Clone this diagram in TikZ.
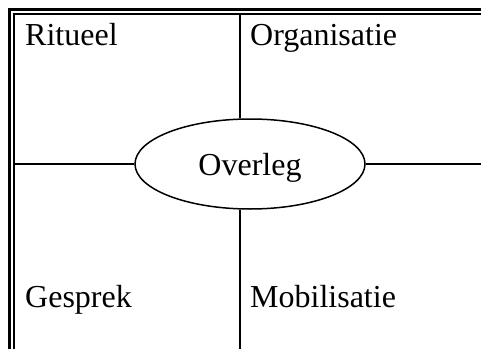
\documentclass[tikz,border=0pt]{standalone}
\usepackage{fontspec}
\setmainfont{Liberation Serif}
\usetikzlibrary{shapes.geometric}
\begin{document}
\begin{tikzpicture}[x=1pt,y=1pt,
  lbl/.style={anchor=base west,inner sep=0pt,font=\fontsize{32}{38}\selectfont},
  outerline/.style={line width=3.4pt},
  innerline/.style={line width=2.2pt},
  gridline/.style={line width=2.8pt},
  centre/.style={ellipse,draw,line width=1.5pt,minimum width=230pt,minimum height=90pt,
    inner sep=0pt,text height=28pt,text depth=6pt,font=\fontsize{32}{38}\selectfont}]
\useasboundingbox (0,0) rectangle (481,349);
% frame coordinates
\coordinate (obl) at (9.5,0);
\coordinate (otl) at (9.5,339.5);
\coordinate (otr) at (481,339.5);
\coordinate (ibl) at (14,0);
\coordinate (itl) at (14,335);
\coordinate (itr) at (481,335);
\coordinate (ml) at (14,185);
\coordinate (mr) at (481,185);
\coordinate (vt) at (240,335);
\coordinate (vb) at (240,0);
% ellipse
\node[centre] (ov) at (250,185) {Overleg};
% double border
\draw[outerline] (obl) -- (otl) -- (otr);
\draw[innerline] (ibl) -- (itl) -- (itr);
% cross lines
\draw[gridline] (ml) -- (ov.west);
\draw[gridline] (ov.east) -- (mr);
\draw[gridline] (vt) -- (vt |- ov.north);
\draw[gridline] (vt |- ov.south) -- (vb);
% labels
\node[lbl] (rit) at (25,304) {Ritueel};
\node[lbl] (org) at (250,304) {Organisatie};
\node[lbl] (ges) at (25,42) {Gesprek};
\node[lbl] (mob) at (250,42) {Mobilisatie};
\end{tikzpicture}
\end{document}
